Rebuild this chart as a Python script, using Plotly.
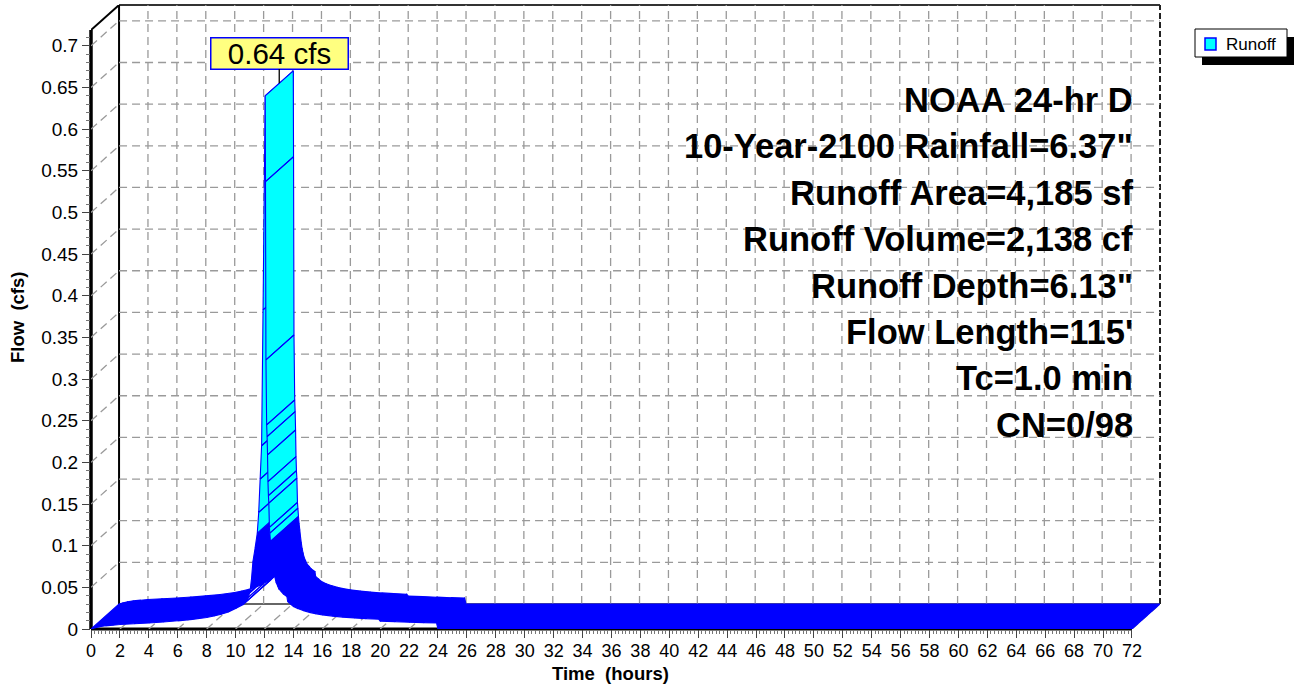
import plotly.graph_objects as go

# ---- hydrograph (time in hours, flow in cfs) ----
time_hr = [0.0, 0.3, 0.6, 1.0, 1.5, 2.0, 3.0, 4.0, 5.0, 6.0, 7.0, 8.0, 8.5, 9.0,
           9.5, 10.0, 10.5, 10.8, 11.0, 11.1, 11.2, 11.35, 11.5, 11.6, 11.7, 11.8,
           11.9, 12.05, 12.07, 12.10, 12.15, 12.18, 12.21, 12.24, 12.27, 12.30,
           12.34, 12.37, 12.41, 12.45, 12.5, 12.55, 12.6, 12.66, 12.73, 12.8,
           12.9, 13.0, 13.15, 13.3, 13.55, 13.6, 13.8, 14.0, 14.3, 14.7, 15.1,
           15.5, 16.0, 16.7, 17.4, 18.2, 19.0, 19.9, 20.0, 21.0, 22.0, 23.0,
           23.9, 24.0, 72.0]
flow_cfs = [0.0, 0.0015, 0.0028, 0.0038, 0.0046, 0.0054, 0.0063, 0.0072, 0.0084,
            0.0098, 0.0115, 0.0138, 0.0155, 0.0178, 0.0205, 0.0245, 0.029, 0.034,
            0.045, 0.060, 0.081, 0.097, 0.115, 0.140, 0.180, 0.220, 0.383, 0.64,
            0.537, 0.323, 0.245, 0.231, 0.209, 0.177, 0.160, 0.151, 0.122, 0.115,
            0.105, 0.097, 0.089, 0.081, 0.074, 0.067, 0.061, 0.056, 0.052, 0.048,
            0.045, 0.042, 0.039, 0.033, 0.030, 0.027, 0.0245, 0.022, 0.020, 0.0185,
            0.017, 0.0155, 0.0143, 0.0133, 0.0125, 0.0118, 0.0095, 0.0089, 0.0082,
            0.0076, 0.0072, 0.0, 0.0]

x_ticks = list(range(0, 73, 2))
y_ticks = [round(0.05 * k, 2) for k in range(15)]
y_tick_text = [f"{v:g}" for v in y_ticks]

info_lines = ['NOAA 24-hr D', '10-Year-2100 Rainfall=6.37"', 'Runoff Area=4,185 sf',
              'Runoff Volume=2,138 cf', 'Runoff Depth=6.13"', "Flow Length=115'",
              'Tc=1.0 min', 'CN=0/98']
series_name = 'Runoff'

# ---- pseudo-3D geometry ----
D_T, D_Q = 1.94, 0.03          # depth offset of the back wall (hours, cfs)
X_MAX, Y_MAX = 72 + D_T, 0.749
Q_FRONT_TOP = Y_MAX - D_Q
W, H = 1294, 686
ML, MR, MT, MB = 91, 134, 5, 57
PW, PH = W - ML - MR, H - MT - MB

FONT = 'Liberation Sans, Arial, sans-serif'
BLUE, CYAN = '#0000FF', '#00FFFF'
GRID = '#9a9a9a'
STEEP = 0.22                    # cfs/hr above which a face is shaded cyan


def px_x(px):
    return (px - ML) / PW


def px_y(py):
    return (H - MB - py) / PH


fig = go.Figure()

# back-wall, floor and side-wall dashed grid
gx, gy = [], []
for t in x_ticks[1:-1]:
    gx += [t + D_T, t + D_T, None]
    gy += [D_Q, Y_MAX, None]
for t in x_ticks[1:]:
    gx += [t, t + D_T, None]
    gy += [0, D_Q, None]
for q in y_ticks[1:]:
    gx += [D_T, 72 + D_T, None, 0, D_T, None]
    gy += [q + D_Q, q + D_Q, None, q, q + D_Q, None]
fig.add_trace(go.Scatter(x=gx, y=gy, mode='lines', hoverinfo='skip', showlegend=False,
                         line=dict(color=GRID, width=1.3, dash='8px,5px')))

# extruded hydrograph ribbon: one swept quad per segment, steep faces shaded cyan.
# Rising and falling limbs go in separate traces so the falling limb paints on top.
peak_i = max(range(len(flow_cfs)), key=lambda i: flow_cfs[i])
runs = []
for i in range(len(time_hr) - 1):
    t0, t1 = time_hr[i], time_hr[i + 1]
    q0, q1 = flow_cfs[i], flow_cfs[i + 1]
    slope = abs(q1 - q0) / (t1 - t0)
    color = CYAN if slope > STEEP else BLUE
    if not runs or runs[-1][0] != color or i == peak_i:
        runs.append([color, [], []])
    xs, ys = runs[-1][1], runs[-1][2]
    xs += [t0, t1, t1 + D_T, t0 + D_T, t0, None]
    ys += [q0, q1, q1 + D_Q, q0 + D_Q, q0, None]

for color, xs, ys in runs:
    fig.add_trace(go.Scatter(x=xs, y=ys, mode='lines', fill='toself', fillcolor=color,
                             line=dict(color=BLUE, width=1.1), hoverinfo='skip',
                             showlegend=False, name=series_name))

# frame lines
shapes = [
    dict(type='line', xref='x', yref='paper', x0=0, x1=72, y0=0, y1=0,
         line=dict(color='black', width=3)),
    dict(type='line', xref='paper', yref='y', x0=0, x1=0, y0=0, y1=Q_FRONT_TOP,
         line=dict(color='black', width=3.5)),
    dict(type='line', xref='x', yref='y', x0=0, x1=D_T, y0=Q_FRONT_TOP, y1=Y_MAX,
         line=dict(color='black', width=2)),
    dict(type='line', xref='x', yref='y', x0=D_T, x1=D_T, y0=D_Q, y1=Y_MAX,
         line=dict(color='black', width=2)),
    dict(type='line', xref='x', yref='paper', x0=D_T, x1=72 + D_T, y0=1, y1=1,
         line=dict(color='#333333', width=2)),
    dict(type='line', xref='paper', yref='y', x0=1, x1=1, y0=D_Q, y1=Y_MAX,
         line=dict(color='#222222', width=2, dash='6px,3px')),
    dict(type='line', xref='x', yref='y', x0=D_T, x1=72 + D_T, y0=D_Q, y1=D_Q,
         line=dict(color='#333333', width=1.5)),
]
for s in shapes:
    s['layer'] = 'below'

# legend box with drop shadow
lx0, ly0, lx1, ly1 = 1195, 29, 1287, 57
shapes += [
    dict(type='rect', xref='paper', yref='paper', x0=px_x(lx0 + 7), x1=px_x(lx1 + 7),
         y0=px_y(ly1 + 8), y1=px_y(ly0 + 8), fillcolor='black', line=dict(width=0)),
    dict(type='rect', xref='paper', yref='paper', x0=px_x(lx0), x1=px_x(lx1),
         y0=px_y(ly1), y1=px_y(ly0), fillcolor='white', line=dict(color='black', width=1)),
    dict(type='rect', xref='paper', yref='paper', x0=px_x(1205), x1=px_x(1216),
         y0=px_y(50), y1=px_y(38), fillcolor=CYAN, line=dict(color=BLUE, width=1.5)),
]

annotations = [
    dict(xref='paper', yref='paper', x=px_x(1224), y=px_y(44), xanchor='left',
         yanchor='middle', text=series_name, showarrow=False,
         font=dict(family=FONT, size=17, color='black')),
    dict(x=time_hr[peak_i] + D_T / 2, y=flow_cfs[peak_i] + D_Q / 2,
         text=f"{flow_cfs[peak_i]:.2f} cfs", showarrow=True, arrowhead=0,
         arrowwidth=1.3, arrowcolor='black', ax=0, ay=-30,
         bgcolor='#FFFF80', bordercolor=BLUE, borderwidth=1.5, borderpad=0,
         width=136, height=30, font=dict(family=FONT, size=29.5, color='black')),
    dict(xref='paper', yref='paper', x=px_x(610), y=px_y(673), xanchor='center',
         yanchor='middle', text='<b>Time\u00a0 (hours)</b>', showarrow=False,
         font=dict(family=FONT, size=18.5, color='black')),
    dict(xref='paper', yref='paper', x=px_x(17), y=px_y(318), xanchor='center',
         yanchor='middle', text='<b>Flow\u00a0 (cfs)</b>', textangle=-90, showarrow=False,
         font=dict(family=FONT, size=18.5, color='black')),
]
for k, line in enumerate(info_lines):
    annotations.append(dict(xref='paper', yref='paper', x=px_x(1135), y=px_y(100 + 46.4 * k),
                            xanchor='right', yanchor='middle', text=f'<b>{line}</b>',
                            showarrow=False, font=dict(family=FONT, size=34.5, color='black')))

x_minor = [k / 4 for k in range(0, 289) if k % 8 != 0]
y_minor = [round(k / 100, 2) for k in range(1, 72) if k % 5 != 0]

fig.update_layout(
    width=W, height=H, margin=dict(l=ML, r=MR, t=MT, b=MB),
    paper_bgcolor='white', plot_bgcolor='white', showlegend=False,
    shapes=shapes, annotations=annotations,
    font=dict(family=FONT, color='black'),
    xaxis=dict(range=[0, X_MAX], tickmode='array', tickvals=x_ticks,
               ticktext=[str(t) for t in x_ticks], ticks='outside', ticklen=8,
               tickwidth=1, tickcolor='#444444', showgrid=False, zeroline=False,
               showline=False, ticklabelstandoff=-3,
               tickfont=dict(family=FONT, size=18, color='black'),
               minor=dict(tickmode='array', tickvals=x_minor, ticks='outside', ticklen=4,
                          tickcolor='#777777', showgrid=False)),
    yaxis=dict(range=[0, Y_MAX], tickmode='array', tickvals=y_ticks, ticktext=y_tick_text,
               ticks='outside', ticklen=8, tickwidth=1, tickcolor='#444444',
               showgrid=False, zeroline=False, showline=False,
               tickfont=dict(family=FONT, size=19, color='black'),
               minor=dict(tickmode='array', tickvals=y_minor, ticks='outside', ticklen=4,
                          tickcolor='#777777', showgrid=False)),
)

fig.write_html("out.html")
